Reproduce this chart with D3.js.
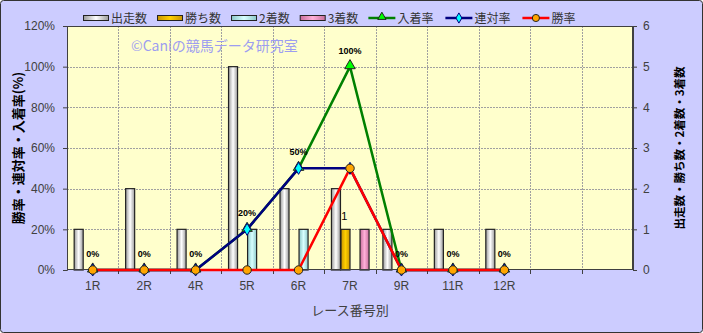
<!DOCTYPE html>
<html>
<head>
<meta charset="utf-8">
<script src="https://cdn.jsdelivr.net/npm/d3@7"></script>
<style>
  body { margin: 0; background: #fff; }
  svg text { font-family: "Liberation Sans", Arial, "Noto Sans CJK JP", sans-serif; }
  .jp { font-family: "Noto Sans CJK JP", sans-serif; }
</style>
</head>
<body>
<div id="chart"></div>
<script>
// race categories (last two slots are empty on the chart)
var races = ["1R", "2R", "4R", "5R", "6R", "7R", "9R", "11R", "12R", "", ""];

// counts (right axis)
var starts = [1, 2, 1, 5, 2, 2, 1, 1, 1];
var wins   = [0, 0, 0, 0, 0, 1, 0, 0, 0];
var second = [0, 0, 0, 1, 1, 0, 0, 0, 0];
var third  = [0, 0, 0, 0, 0, 1, 0, 0, 0];

// rates in % (left axis)
var placeRate = [0, 0, 0, 20, 50, 100, 0, 0, 0];
var rentaiRate = [0, 0, 0, 20, 50, 50, 0, 0, 0];
var winRate = [0, 0, 0, 0, 0, 50, 0, 0, 0];

var leftTicks = [0, 20, 40, 60, 80, 100, 120];
var rightTicks = [0, 1, 2, 3, 4, 5, 6];

var W = 703, H = 333;
var m = {left: 67, right: 70, top: 26, bottom: 63};

var svg = d3.select("#chart").append("svg")
    .attr("width", W)
    .attr("height", H);

var defs = svg.append("defs");

var barSeries = [
  {name: "出走数", values: starts, c0: "#9a9a9a", c1: "#ffffff"},
  {name: "勝ち数", values: wins, c0: "#c89400", c1: "#ffd000"},
  {name: "2着数", values: second, c0: "#8cc8c8", c1: "#d8ffff"},
  {name: "3着数", values: third, c0: "#c86e9c", c1: "#ffb0d8"}
];
var lineSeries = [
  {name: "入着率", values: placeRate, color: "#008000", fill: "#00ff00", shape: "tri"},
  {name: "連対率", values: rentaiRate, color: "#000080", fill: "#00ffff", shape: "dia"},
  {name: "勝率", values: winRate, color: "#ff0000", fill: "#ffa500", shape: "circ"}
];

barSeries.forEach(function(s, i) {
  var g = defs.append("linearGradient").attr("id", "grad" + i)
      .attr("x1", 0).attr("x2", 1).attr("y1", 0).attr("y2", 0);
  g.append("stop").attr("offset", "0%").attr("stop-color", s.c0);
  g.append("stop").attr("offset", "50%").attr("stop-color", s.c1);
  g.append("stop").attr("offset", "100%").attr("stop-color", s.c0);
});

// background
svg.append("rect")
    .attr("x", 0.5).attr("y", 0.5)
    .attr("width", W - 1).attr("height", H - 1)
    .attr("rx", 3)
    .attr("fill", "#ccccff")
    .attr("stroke", "#333");

var x = d3.scaleBand()
    .domain(d3.range(races.length))
    .range([m.left, W - m.right]);

var yL = d3.scaleLinear().domain([0, 120]).range([H - m.bottom, m.top]);
var yR = d3.scaleLinear().domain([0, 6]).range([H - m.bottom, m.top]);

var sub = d3.scaleBand()
    .domain(d3.range(barSeries.length))
    .range([0, x.bandwidth()])
    .paddingOuter(0.7)
    .paddingInner(0);

// plot area
svg.append("rect")
    .attr("x", m.left).attr("y", m.top)
    .attr("width", W - m.left - m.right)
    .attr("height", H - m.top - m.bottom)
    .attr("fill", "#ffffcc");

// grid
svg.append("g").selectAll("line")
    .data(leftTicks.slice(1, -1))
  .enter().append("line")
    .attr("x1", m.left).attr("x2", W - m.right)
    .attr("y1", function(d) { return Math.round(yL(d)) + 0.5; })
    .attr("y2", function(d) { return Math.round(yL(d)) + 0.5; })
    .attr("stroke", "#a0a0a0")
    .attr("stroke-dasharray", "2,1");

svg.append("g").selectAll("line")
    .data(d3.range(1, races.length))
  .enter().append("line")
    .attr("x1", function(d) { return Math.round(x(d)) + 0.5; })
    .attr("x2", function(d) { return Math.round(x(d)) + 0.5; })
    .attr("y1", m.top).attr("y2", H - m.bottom)
    .attr("stroke", "#a0a0a0")
    .attr("stroke-dasharray", "2,1");

// watermark
svg.append("text")
    .attr("class", "jp")
    .attr("x", 131).attr("y", 51)
    .style("font-size", "14px")
    .attr("fill", "#9d9df0")
    .text("©Caniの競馬データ研究室");

// bars
barSeries.forEach(function(s, i) {
  var pts = s.values.map(function(v, j) { return {v: v, j: j}; })
      .filter(function(d) { return d.v > 0; });
  svg.append("g").selectAll("rect")
      .data(pts)
    .enter().append("rect")
      .attr("x", function(d) { return x(d.j) + sub(i) + 0.5; })
      .attr("y", function(d) { return yR(d.v); })
      .attr("width", sub.bandwidth() - 0.5)
      .attr("height", function(d) { return yR(0) - yR(d.v); })
      .attr("fill", "url(#grad" + i + ")")
      .attr("stroke", "#222")
      .attr("stroke-width", 1.2);
});

// label on the win bar
wins.forEach(function(v, j) {
  if (v > 0) {
    svg.append("text")
        .attr("x", x(j) + sub(1) + sub.bandwidth() / 2 - 1)
        .attr("y", yR(v) - 9)
        .attr("text-anchor", "middle")
        .style("font-size", "11px")
        .attr("fill", "#000")
        .text(v);
  }
});

// plot frame
svg.append("rect")
    .attr("x", m.left + 0.5).attr("y", m.top + 0.5)
    .attr("width", W - m.left - m.right - 1)
    .attr("height", H - m.top - m.bottom - 1)
    .attr("fill", "none")
    .attr("stroke", "#404040");

// axes
var axL = d3.axisLeft(yL).tickValues(leftTicks).tickSize(4).tickPadding(8)
    .tickFormat(function(d) { return d + "%"; });
var axR = d3.axisRight(yR).tickValues(rightTicks).tickSize(4).tickPadding(6)
    .tickFormat(d3.format("d"));

function styleAxis(g) {
  g.select(".domain").attr("stroke", "#404040");
  g.selectAll(".tick line").attr("stroke", "#404040");
  g.selectAll(".tick text").attr("fill", "#404040").style("font-size", "12px");
}

svg.append("g").attr("transform", "translate(" + m.left + ",0)").call(axL).call(styleAxis);
svg.append("g").attr("transform", "translate(" + (W - m.right) + ",0)").call(axR).call(styleAxis);

// bottom ticks at category boundaries + labels
var bot = svg.append("g");
bot.selectAll("line")
    .data(d3.range(1, races.length))
  .enter().append("line")
    .attr("x1", function(d) { return Math.round(x(d)) + 0.5; })
    .attr("x2", function(d) { return Math.round(x(d)) + 0.5; })
    .attr("y1", H - m.bottom).attr("y2", H - m.bottom + 4)
    .attr("stroke", "#404040");
bot.selectAll("text")
    .data(races)
  .enter().append("text")
    .attr("x", function(d, i) { return x(i) + x.bandwidth() / 2; })
    .attr("y", H - m.bottom + 20)
    .attr("text-anchor", "middle")
    .style("font-size", "12px")
    .attr("fill", "#404040")
    .text(function(d) { return d; });

// lines
var symbols = {
  tri: d3.symbol().type(d3.symbolTriangle).size(48),
  dia: d3.symbol().type(d3.symbolDiamond).size(42),
  circ: d3.symbol().type(d3.symbolCircle).size(56)
};

lineSeries.forEach(function(s) {
  var line = d3.line()
      .x(function(d, j) { return x(j) + x.bandwidth() / 2; })
      .y(function(d) { return yL(d); });
  svg.append("path")
      .datum(s.values)
      .attr("d", line)
      .attr("fill", "none")
      .attr("stroke", s.color)
      .attr("stroke-width", 2.5)
      .attr("stroke-linejoin", "round");
});
lineSeries.forEach(function(s) {
  svg.append("g").selectAll("path")
      .data(s.values)
    .enter().append("path")
      .attr("d", symbols[s.shape])
      .attr("transform", function(d, j) {
        return "translate(" + (x(j) + x.bandwidth() / 2) + "," + (yL(d) - (s.shape == "tri" ? 1 : 0)) + ")";
      })
      .attr("fill", s.fill)
      .attr("stroke", s.shape == "dia" ? "#000080" : "#222")
      .attr("stroke-width", 1);
});

// data labels of place rate
svg.append("g").selectAll("text")
    .data(placeRate)
  .enter().append("text")
    .attr("x", function(d, j) { return x(j) + x.bandwidth() / 2; })
    .attr("y", function(d) { return yL(d) - 13; })
    .attr("text-anchor", "middle")
    .style("font-size", "9px")
    .style("font-weight", "bold")
    .attr("fill", "#000")
    .text(function(d) { return d + "%"; });

// axis titles
svg.append("text")
    .attr("class", "jp")
    .attr("transform", "translate(23," + ((m.top + H - m.bottom) / 2) + ")rotate(-90)")
    .attr("text-anchor", "middle")
    .style("font-size", "13px")
    .style("font-weight", "bold")
    .attr("fill", "#000")
    .text("勝率・連対率・入着率(%)");

svg.append("text")
    .attr("class", "jp")
    .attr("transform", "translate(684," + ((m.top + H - m.bottom) / 2) + ")rotate(-90)")
    .attr("text-anchor", "middle")
    .style("font-size", "11.5px")
    .style("font-weight", "bold")
    .attr("fill", "#000")
    .text("出走数・勝ち数・2着数・3着数");

svg.append("text")
    .attr("class", "jp")
    .attr("x", (m.left + W - m.right) / 2)
    .attr("y", 315)
    .attr("text-anchor", "middle")
    .style("font-size", "13px")
    .attr("fill", "#404040")
    .text("レース番号別");

// legend
var legend = svg.append("g").attr("transform", "translate(83,18)");
var lx = 0;
barSeries.forEach(function(s, i) {
  var it = legend.append("g").attr("transform", "translate(" + lx + ",0)");
  it.append("rect").attr("x", 0.5).attr("y", -2.5).attr("width", 25).attr("height", 5)
      .attr("fill", "url(#grad" + i + ")").attr("stroke", "#222");
  var t = it.append("text").attr("class", "jp").attr("x", 28).attr("y", 5)
      .style("font-size", "12px").attr("fill", "#333").text(s.name);
  lx += 28 + t.node().getComputedTextLength() + 10;
});
lineSeries.forEach(function(s) {
  var it = legend.append("g").attr("transform", "translate(" + lx + ",0)");
  it.append("line").attr("x1", 0).attr("x2", 27).attr("y1", 0).attr("y2", 0)
      .attr("stroke", s.color).attr("stroke-width", 2.5);
  it.append("path").attr("d", d3.symbol().type(
        s.shape == "tri" ? d3.symbolTriangle : s.shape == "dia" ? d3.symbolDiamond : d3.symbolCircle
      ).size(s.shape == "circ" ? 40 : 30))
      .attr("transform", "translate(13.5," + (s.shape == "tri" ? -1 : 0) + ")")
      .attr("fill", s.fill)
      .attr("stroke", s.shape == "dia" ? "#000080" : "#222");
  var t = it.append("text").attr("class", "jp").attr("x", 29).attr("y", 5)
      .style("font-size", "12px").attr("fill", "#333").text(s.name);
  lx += 29 + t.node().getComputedTextLength() + 12;
});
</script>
</body>
</html>
